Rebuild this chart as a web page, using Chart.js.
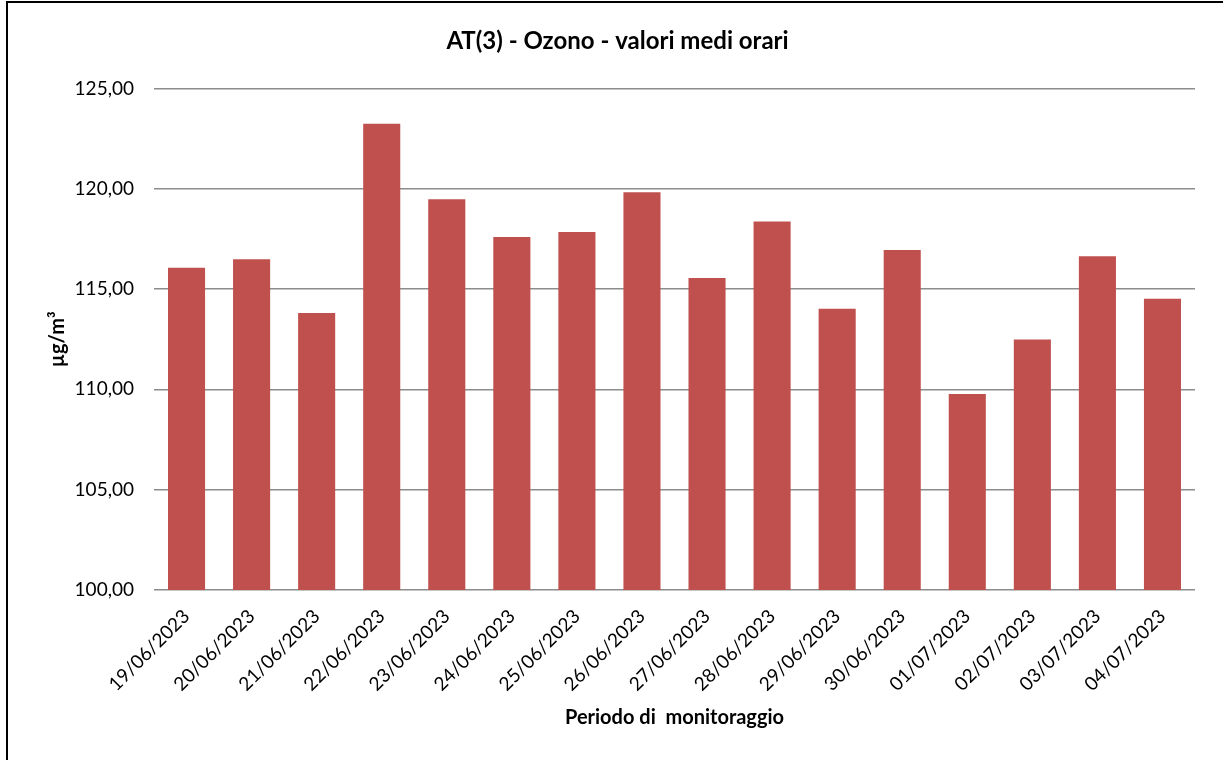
<!DOCTYPE html>
<html>
<head>
<meta charset="utf-8">
<script src="https://cdn.jsdelivr.net/npm/chart.js@4.4.0/dist/chart.umd.min.js"></script>
<style>
    html, body { margin: 0; padding: 0; background: #fff; overflow: hidden; }
    #frame { position: absolute; left: 6px; top: 1px; width: 1300px; height: 800px; border: 2px solid #000; }
    #wrap { position: absolute; left: 0; top: 0; width: 1223px; height: 760px; }
</style>
</head>
<body>
<div id="frame"></div>
<div id="wrap"><canvas id="ozoneChart"></canvas></div>
<script>
// Daily mean ozone values (µg/m³)
const dates = ['19/06/2023', '20/06/2023', '21/06/2023', '22/06/2023', '23/06/2023', '24/06/2023',
    '25/06/2023', '26/06/2023', '27/06/2023', '28/06/2023', '29/06/2023', '30/06/2023',
    '01/07/2023', '02/07/2023', '03/07/2023', '04/07/2023'];
const ozone = [116.06, 116.48, 113.81, 123.24, 119.47, 117.59, 117.84, 119.83,
    115.55, 118.37, 114.02, 116.94, 109.77, 112.49, 116.63, 114.52];
const yMin = 100;
const yMax = 125;
const yStep = 5;

const fmt = v => v.toFixed(2).replace('.', ',');

document.addEventListener('DOMContentLoaded', function () {
    Chart.defaults.font.family = 'Lato, "Open Sans", sans-serif';
    Chart.defaults.color = '#000';

    new Chart(document.getElementById('ozoneChart'), {
        type: 'bar',
        data: {
            labels: dates,
            datasets: [{
                label: 'Ozono',
                data: ozone,
                backgroundColor: '#C0504D',
                barPercentage: 0.57,
                categoryPercentage: 1.0,
            }]
        },
        options: {
            responsive: true,
            maintainAspectRatio: false,
            animation: false,
            layout: { padding: { left: 40, right: 28, top: 0, bottom: 20 } },
            plugins: {
                legend: { display: false },
                tooltip: { enabled: false },
                title: {
                    display: true,
                    text: 'AT(3) - Ozono - valori medi orari',
                    color: '#000',
                    font: { size: 24, weight: 'bold' },
                    padding: { top: 27, bottom: 32.6 }
                }
            },
            scales: {
                x: {
                    grid: { display: false },
                    border: { display: false },
                    ticks: { font: { size: 19 }, minRotation: 45, maxRotation: 45, padding: 7 },
                    title: {
                        display: true,
                        text: 'Periodo di  monitoraggio',
                        font: { size: 20, weight: 'bold' },
                        padding: { top: 0, bottom: 10 }
                    },
                    afterFit: s => { s.height = 150; }
                },
                y: {
                    min: yMin,
                    max: yMax,
                    border: { display: false },
                    grid: { color: '#8c8c8c', lineWidth: 1.5, drawTicks: false },
                    ticks: { stepSize: yStep, font: { size: 19 }, padding: 20, callback: v => fmt(v) },
                    title: {
                        display: true,
                        text: 'µg/m³',
                        font: { size: 20, weight: 'bold' },
                        padding: { top: 6, bottom: 0 }
                    },
                    afterFit: s => { s.width = 114; }
                }
            }
        }
    });
});
</script>
</body>
</html>
